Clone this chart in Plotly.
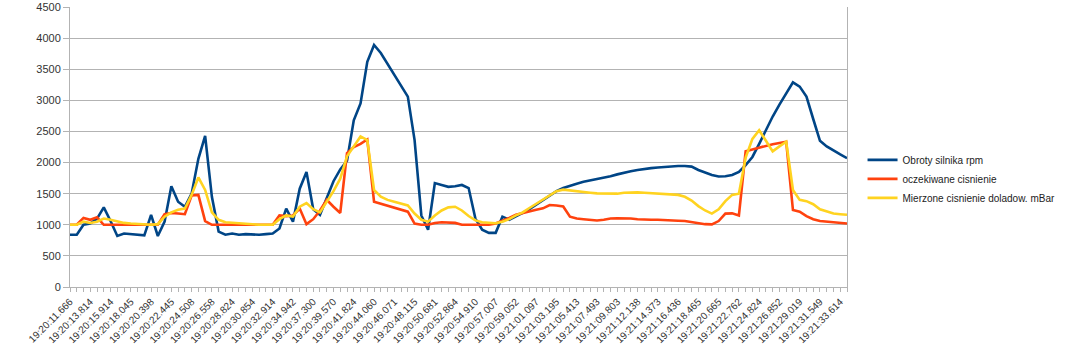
import plotly.graph_objects as go

tick_labels = [
    "19:20:11.666", "19:20:13.814", "19:20:15.914", "19:20:18.045", "19:20:20.398",
    "19:20:22.445", "19:20:24.508", "19:20:26.558", "19:20:28.824", "19:20:30.854",
    "19:20:32.914", "19:20:34.942", "19:20:37.300", "19:20:39.570", "19:20:41.824",
    "19:20:44.060", "19:20:46.071", "19:20:48.115", "19:20:50.681", "19:20:52.864",
    "19:20:54.910", "19:20:57.007", "19:20:59.052", "19:21:01.097", "19:21:03.195",
    "19:21:05.413", "19:21:07.493", "19:21:09.803", "19:21:12.138", "19:21:14.373",
    "19:21:16.436", "19:21:18.465", "19:21:20.665", "19:21:22.762", "19:21:24.824",
    "19:21:26.852", "19:21:29.019", "19:21:31.549", "19:21:33.614",
]
label_step = 3

obroty = [
    840, 840, 1000, 1020, 1100, 1280, 1060, 820, 860, 850,
    850, 830, 1160, 820, 1050, 1620, 1370, 1290, 1500, 2060,
    2430, 1450, 890, 840, 860, 840, 850, 840, 840, 850,
    860, 940, 1260, 1050, 1580, 1850, 1250, 1160, 1430, 1700,
    1890, 2030, 2680, 2950, 3620, 3890, 3760, 3580, 3400, 3230,
    3060, 2360, 1150, 920, 1670, 1640, 1610, 1620, 1640, 1590,
    1100, 920, 870, 870, 1130, 1080, 1130, 1190, 1250, 1320,
    1400, 1470, 1540, 1590, 1630, 1660, 1690, 1710, 1730, 1750,
    1780, 1810, 1840, 1860, 1880, 1900, 1910, 1920, 1930, 1940,
    1945, 1945, 1935, 1880, 1840, 1800, 1775, 1780, 1800, 1850,
    1960, 2090, 2300, 2520, 2740, 2930, 3120, 3290, 3220, 3060,
    2700, 2350, 2260, 2190, 2130, 2070,
]

oczekiwane = [
    1000, 1000, 1110, 1080, 1120, 1000, 1000, 1000, 1000, 1000,
    1000, 1000, 1000, 1000, 1170, 1190, 1180, 1170, 1470, 1480,
    1060, 1000, 1000, 1000, 1000, 1000, 1000, 1000, 1000, 1000,
    1000, 1150, 1140, 1150, 1260, 1010, 1090, 1230, 1400, 1290,
    1190, 2150, 2250, 2300, 2370, 1370, 1340, 1310, 1280, 1250,
    1210, 1020, 1000, 1000, 1030, 1040, 1040, 1030, 1000, 1000,
    1000, 1000, 1000, 1020, 1060, 1110, 1160, 1190, 1215, 1240,
    1264, 1318, 1310, 1295, 1130, 1100, 1090, 1075, 1070, 1080,
    1100, 1105, 1105, 1100, 1090, 1080, 1080, 1080, 1078, 1077,
    1065, 1060, 1040, 1020, 1010, 1006, 1060, 1180, 1184, 1150,
    2180, 2210, 2240, 2270, 2295, 2315, 2335, 1237, 1210, 1140,
    1090, 1060, 1050, 1040, 1030, 1020,
]

mierzone = [
    1000, 1000, 1050, 1030, 1050, 1100, 1080, 1050, 1030, 1020,
    1010, 1000, 1000, 1010, 1130, 1200, 1240, 1260, 1480, 1760,
    1560, 1200, 1080, 1040, 1030, 1020, 1010, 1000, 1000, 1000,
    1000, 1090, 1150, 1130, 1290, 1350, 1250, 1200, 1370, 1540,
    1740, 2100, 2260, 2420, 2360, 1560, 1450, 1400, 1370, 1340,
    1310, 1180, 1080, 1050, 1150, 1230, 1280, 1290, 1230, 1140,
    1070, 1040, 1030, 1025, 1050, 1090, 1150, 1200, 1270, 1340,
    1410, 1480, 1540, 1565, 1550, 1545, 1530, 1515, 1505, 1500,
    1495, 1500, 1515, 1520, 1520, 1515, 1510, 1500, 1495, 1490,
    1480, 1450, 1390, 1300, 1230, 1180, 1250, 1380, 1480, 1500,
    2080, 2380, 2520, 2350, 2180, 2260, 2335, 1560, 1400, 1380,
    1330, 1250, 1210, 1180, 1170, 1160,
]

series_names = ["Obroty silnika rpm", "oczekiwane cisnienie", "Mierzone cisnienie doladow. mBar"]
series_colors = ["#004586", "#ff420e", "#ffd320"]

n = len(obroty)
x = list(range(n))
tickvals = [i * label_step for i in range(len(tick_labels))]

fig = go.Figure()
for name, vals, col in zip(series_names, [obroty, oczekiwane, mierzone], series_colors):
    fig.add_trace(go.Scatter(x=x, y=vals, mode="lines", name=name,
                             line=dict(color=col, width=2.6)))

font_family = "Liberation Sans, Arial, sans-serif"
grid = "#b3b3b3"

fig.update_layout(
    width=1074, height=359,
    margin=dict(l=70, r=227, t=7, b=72),
    paper_bgcolor="white", plot_bgcolor="white",
    font=dict(family=font_family, size=10, color="#333333"),
    showlegend=True,
    legend=dict(x=1.020, y=0.386, xanchor="left", yanchor="middle",
                font=dict(size=10, color="#222222"),
                bgcolor="rgba(0,0,0,0)", borderwidth=0,
                tracegroupgap=0, itemwidth=30),
)
fig.update_xaxes(
    range=[0, n - 1], tickmode="array", tickvals=tickvals, ticktext=tick_labels,
    tickangle=-45, ticks="outside", ticklen=4, tickcolor=grid,
    showgrid=False, zeroline=False, showline=True, linecolor=grid, linewidth=1,
    automargin=False, tickfont=dict(size=10, color="#333333"),
    minor=dict(ticks="outside", ticklen=4, tickcolor=grid, tickmode="linear",
               tick0=0, dtick=1, showgrid=False),
)
fig.update_yaxes(
    range=[0, 4500], dtick=500, tick0=0, ticks="outside", ticklen=6, tickcolor=grid,
    showgrid=True, gridcolor=grid, gridwidth=1, zeroline=False,
    showline=True, linecolor=grid, linewidth=1, mirror=True,
    automargin=False, tickfont=dict(size=11, color="#333333"),
)

fig.write_html("out.html", config={"displayModeBar": False},
               post_script="document.body.style.margin='0';")
